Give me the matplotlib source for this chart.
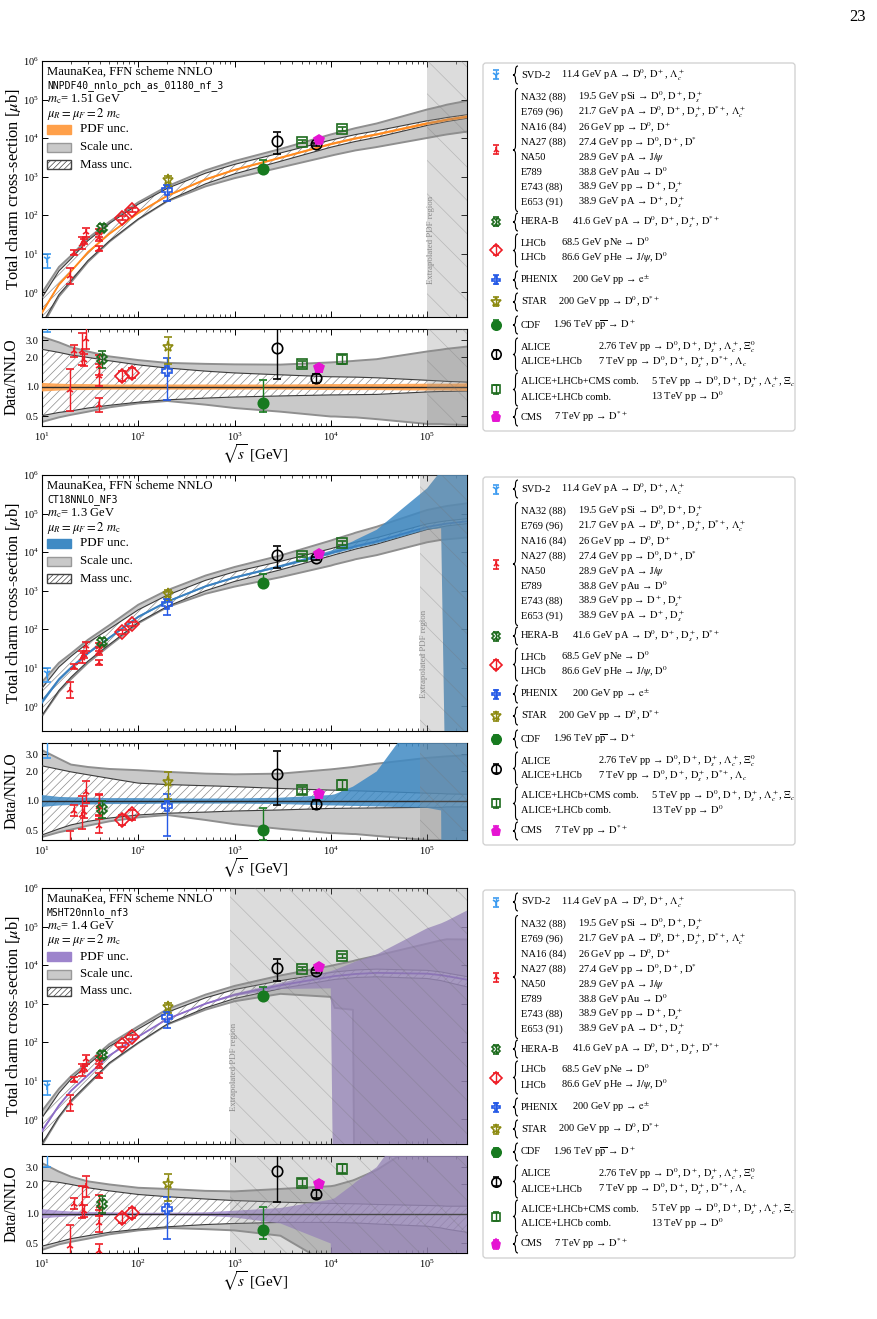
import numpy as np
import matplotlib.pyplot as plt
from matplotlib.patches import Rectangle, FancyBboxPatch, PathPatch
from matplotlib.path import Path
from matplotlib.ticker import NullLocator, FixedLocator, FixedFormatter

plt.rcParams['font.family'] = ['Liberation Serif', 'DejaVu Serif']
plt.rcParams['mathtext.fontset'] = 'stix'
plt.rcParams['hatch.linewidth'] = 0.5
plt.rcParams['xtick.direction'] = 'in'
plt.rcParams['ytick.direction'] = 'in'
plt.rcParams['xtick.top'] = True
plt.rcParams['ytick.right'] = True
plt.rcParams['axes.linewidth'] = 0.8

# ---------------- measurements ----------------
# sqrt(s) [GeV], sigma [mub], error bar ends
pts_x = [11.4, 19.5, 21.7, 26.0, 27.4, 28.9, 38.8, 38.9, 38.9, 41.6,
         68.5, 86.6, 200, 205, 1960, 2760, 7000, 5020, 13000, 7500]
pts_y = [7.3, 2.7, 10.8, 18, 21, 36, 13.5, 26, 34, 48,
         86, 141, 465, 845, 1620, 8200, 7000, 8000, 17200, 9150]
pts_lo = [4.4, 1.64, 9.6, 13, 18, 28, 11.5, 21, 27, 39,
          77, 125, 231, 570, 1300, 3900, 6300, 7400, 15500, 8400]
pts_hi = [9.8, 4.4, 12.5, 28, 24, 46, 16, 35, 44, 58,
          96, 158, 620, 1070, 2770, 14000, 7700, 8700, 19000, 9900]
# experiment symbol each point belongs to
pts_grp = [0, 1, 1, 1, 1, 1, 1, 1, 1, 2, 3, 3, 4, 5, 6, 7, 7, 8, 8, 9]

# data / NNLO central value for each PDF set
ratio_nnpdf = [6.0, 0.94, 2.3, 2.3, 1.9, 3.1, 0.65, 1.28, 1.65, 1.91,
               1.3, 1.4, 1.47, 2.56, 0.69, 2.52, 1.23, 1.71, 1.92, 1.55]
ratio_ct18 = [4.5, 0.3, 0.79, 0.72, 0.78, 1.24, 0.55, 0.86, 0.9, 0.83,
              0.64, 0.73, 0.88, 1.55, 0.5, 1.9, 0.93, 1.28, 1.47, 1.18]
ratio_msht = [5.0, 0.47, 1.25, 1.25, 1.08, 1.92, 0.42, 0.81, 1.2, 1.25,
              0.9, 1.02, 1.13, 2.02, 0.69, 2.77, 1.6, 2.07, 2.9, 2.02]

# ---------------- NNLO predictions (bands as ratio to central) ----------------
sqrt_s = [10, 15, 20, 30, 50, 100, 200, 500, 1e3, 3e3, 1e4, 1.1e4, 1.7e4, 1.8e4, 3e4,
          1e5, 1.4e5, 1.6e5, 2.6e5]

nnpdf_central = [0.3, 1.6, 3.5, 11, 33, 115, 320, 850, 1500, 3100, 7000, 7400,
                 9500, 9800, 12500, 24000, 28000, 30000, 36000]
nnpdf_scale_hi = [3.25, 2.85, 2.55, 2.3, 2.05, 1.88, 1.76, 1.72, 1.7, 1.69, 1.78, 1.79,
                  1.84, 1.85, 1.92, 2.3, 2.4, 2.45, 2.58]
nnpdf_scale_lo = [0.44, 0.49, 0.52, 0.56, 0.62, 0.68, 0.72, 0.66, 0.61, 0.56, 0.5, 0.5,
                  0.49, 0.49, 0.47, 0.42, 0.42, 0.415, 0.41]
nnpdf_mass_hi = [2.42, 2.25, 2.12, 2.0, 1.85, 1.68, 1.56, 1.45, 1.39, 1.33, 1.27, 1.27,
                 1.26, 1.26, 1.24, 1.17, 1.15, 1.14, 1.12]
nnpdf_mass_lo = [0.51, 0.55, 0.57, 0.61, 0.65, 0.7, 0.74, 0.77, 0.79, 0.81, 0.83, 0.83,
                 0.835, 0.835, 0.84, 0.89, 0.9, 0.9, 0.91]
nnpdf_pdf_hi = [1.1, 1.08, 1.07, 1.07, 1.06, 1.06, 1.06, 1.06, 1.06, 1.06, 1.07, 1.07,
                1.07, 1.07, 1.07, 1.08, 1.08, 1.08, 1.09]
nnpdf_pdf_lo = [0.9, 0.92, 0.93, 0.93, 0.94, 0.94, 0.94, 0.94, 0.94, 0.94, 0.93, 0.93,
                0.93, 0.93, 0.93, 0.92, 0.92, 0.92, 0.91]

ct18_central = [1.3, 5, 10, 24, 60, 210, 520, 1300, 2200, 4300, 9500, 10200,
                13600, 14200, 19000, 45000, 52000, 55000, 63000]
ct18_scale_hi = [3.3, 2.7, 2.35, 2.22, 2.12, 2.06, 1.98, 1.9, 1.87, 1.9, 2.1, 2.12,
                 2.22, 2.24, 2.4, 2.75, 2.82, 2.85, 2.93]
ct18_scale_lo = [0.43, 0.48, 0.51, 0.56, 0.62, 0.68, 0.72, 0.64, 0.58, 0.52, 0.47, 0.47,
                 0.46, 0.46, 0.44, 0.4, 0.4, 0.39, 0.38]
ct18_mass_hi = [2.28, 2.1, 1.98, 1.85, 1.7, 1.52, 1.47, 1.43, 1.4, 1.34, 1.29, 1.29,
                1.27, 1.27, 1.25, 1.2, 1.19, 1.18, 1.17]
ct18_mass_lo = [0.45, 0.52, 0.57, 0.62, 0.67, 0.72, 0.75, 0.77, 0.79, 0.81, 0.84, 0.84,
                0.845, 0.845, 0.85, 0.86, 0.86, 0.87, 0.87]
ct18_pdf_hi = [1.15, 1.1, 1.09, 1.08, 1.07, 1.07, 1.06, 1.06, 1.06, 1.08, 1.15, 1.17,
               1.4, 1.45, 2.0, 10, 25, 30, 40]
ct18_pdf_lo = [0.87, 0.9, 0.91, 0.92, 0.93, 0.93, 0.94, 0.94, 0.94, 0.93, 0.9, 0.9,
               0.89, 0.89, 0.88, 0.85, 0.8, 1e-9, 1e-9]

msht_central = [0.5, 2.3, 5.5, 14, 45, 140, 400, 1000, 1700, 3000, 5000, 5200,
                5800, 5900, 6300, 6000, 5500, 5200, 4200]
msht_scale_hi = [3.3, 2.7, 2.4, 2.15, 2.0, 1.85, 1.8, 1.72, 1.7, 1.8, 1.92, 1.95,
                 2.2, 2.25, 2.8, 6, 8, 9, 11]
msht_scale_lo = [0.43, 0.49, 0.52, 0.56, 0.62, 0.68, 0.72, 0.7, 0.68, 0.6, 0.3, 0.15,
                 0.12, 1e-9, 1e-9, 1e-9, 1e-9, 1e-9, 1e-9]
msht_mass_hi = [2.2, 2.1, 2.0, 1.85, 1.72, 1.58, 1.5, 1.42, 1.37, 1.32, 1.28, 1.28,
                1.27, 1.27, 1.25, 1.22, 1.21, 1.2, 1.2]
msht_mass_lo = [0.47, 0.52, 0.56, 0.6, 0.65, 0.7, 0.74, 0.78, 0.8, 0.82, 0.82, 0.82,
                0.81, 0.81, 0.79, 0.75, 0.72, 0.7, 0.65]
msht_pdf_hi = [1.12, 1.08, 1.06, 1.05, 1.04, 1.03, 1.03, 1.04, 1.08, 1.15, 1.4, 1.45,
               2.0, 2.1, 3.0, 15, 22, 27, 62]
msht_pdf_lo = [0.9, 0.93, 0.95, 0.96, 0.97, 0.97, 0.97, 0.96, 0.92, 0.8, 0.5, 1e-9,
               1e-9, 1e-9, 1e-9, 1e-9, 1e-9, 1e-9, 1e-9]

# start of the extrapolated PDF region [GeV]
extrap_start = [1e5, 8.5e4, 900]

pdf_names = ['NNPDF40_nnlo_pch_as_01180_nf_3', 'CT18NNLO_NF3', 'MSHT20nnlo_nf3']
mc_values = ['1.51', '1.3', '1.4']

# legend texts
D0, Dp, Ds, Dst, Dss = (r'$\mathrm{D}^0$', r'$\mathrm{D}^+$', r'$\mathrm{D}_s^+$',
                        r'$\mathrm{D}^{*+}$', r'$\mathrm{D}^{*}$')
Lc, Lcn, Jpsi = r'$\Lambda_c^+$', r'$\Lambda_c$', r'$\mathrm{J}/\psi$'
leg_svd = [('SVD-2', '11.4 GeV pA → ' + ', '.join([D0, Dp, Lc]))]
leg_fixed = [
    ('NA32 (88)', '19.5 GeV pSi → ' + ', '.join([D0, Dp, Ds])),
    ('E769 (96)', '21.7 GeV pA → ' + ', '.join([D0, Dp, Ds, Dst, Lc])),
    ('NA16 (84)', '26 GeV pp → ' + ', '.join([D0, Dp])),
    ('NA27 (88)', '27.4 GeV pp → ' + ', '.join([D0, Dp, Dss])),
    ('NA50', '28.9 GeV pA → ' + Jpsi),
    ('E789', '38.8 GeV pAu → ' + D0),
    ('E743 (88)', '38.9 GeV pp → ' + ', '.join([Dp, Ds])),
    ('E653 (91)', '38.9 GeV pA → ' + ', '.join([Dp, Ds]))]
leg_herab = [('HERA-B', '41.6 GeV pA → ' + ', '.join([D0, Dp, Ds, Dst]))]
leg_lhcb = [('LHCb', '68.5 GeV pNe → ' + D0),
            ('LHCb', '86.6 GeV pHe → ' + ', '.join([Jpsi, D0]))]
leg_phenix = [('PHENIX', '200 GeV pp → ' + r'$\mathrm{e}^{\pm}$')]
leg_star = [('STAR', '200 GeV pp → ' + ', '.join([D0, Dst]))]
leg_cdf = [('CDF', r'1.96 TeV p$\overline{\mathrm{p}}$ → ' + Dp)]
leg_alice = [('ALICE', '2.76 TeV pp → ' + ', '.join([D0, Dp, Ds, Lc, r'$\Xi_c^0$'])),
             ('ALICE+LHCb', '7 TeV pp → ' + ', '.join([D0, Dp, Ds, Dst, Lcn]))]
leg_comb = [('ALICE+LHCb+CMS comb.', '5 TeV pp → ' + ', '.join([D0, Dp, Ds, Lc, r'$\Xi_c$'])),
            ('ALICE+LHCb comb.', '13 TeV pp → ' + D0)]
leg_cms = [('CMS', '7 TeV pp → ' + Dst)]

# ---------------- styles ----------------
grp_color = ['#3d9bf0', '#ee1c25', '#1d6b1d', '#ee1c25', '#2459e6', '#8c8a10',
             '#177a1f', 'black', '#1d6b1d', '#e514d2']
grp_marker = ['1', '2', 'X', 'D', 'P', '*', 'o', 'o', 's', 'p']
grp_filled = [True, True, False, False, False, False, True, False, False, True]
grp_ms = [6, 5, 7, 7, 7, 8, 7.5, 7.5, 7, 7.5]
band_cols = ['#ffa04a', '#3f8ac4', '#9d84cc']
line_cols = ['#ff8a1f', '#3a80c0', '#8d6cc8']
band_alpha = [0.9, 0.85, 0.78]

W, H = 877, 1319
fig = plt.figure(figsize=(W / 100, H / 100), dpi=100)


def fbox(x0, y0, x1, y1):
    return [x0 / W, 1 - y1 / H, (x1 - x0) / W, (y1 - y0) / H]


def draw_points(a, yv, lo, hi):
    yv, lo, hi = np.array(yv), np.array(lo), np.array(hi)
    xs = np.array(pts_x)
    g = np.array(pts_grp)
    for k in range(10):
        m = g == k
        c = grp_color[k]
        a.errorbar(xs[m], yv[m], yerr=[yv[m] - lo[m], hi[m] - yv[m]], fmt=grp_marker[k],
                   color=c, mfc=c if grp_filled[k] else 'none', mec=c, ms=grp_ms[k],
                   mew=1.2, elinewidth=1.0, capsize=3, capthick=1.0, zorder=10)


def brace(a, x, y0, y1, w=5):
    ym = 0.5 * (y0 + y1)
    r = min(4, (y1 - y0) / 4)
    verts = [(x + w, y0), (x + w / 2, y0), (x + w / 2, y0 + r),
             (x + w / 2, ym - r), (x + w / 2, ym), (x, ym),
             (x + w / 2, ym), (x + w / 2, ym + r),
             (x + w / 2, y1 - r), (x + w / 2, y1), (x + w, y1)]
    codes = [Path.MOVETO, Path.CURVE3, Path.CURVE3, Path.LINETO, Path.CURVE3, Path.CURVE3,
             Path.CURVE3, Path.CURVE3, Path.LINETO, Path.CURVE3, Path.CURVE3]
    a.add_patch(PathPatch(Path(verts, codes), fc='none', ec='black', lw=0.8))


def draw_legend_box(dy):
    al = fig.add_axes(fbox(480, 60 + dy, 798, 434 + dy))
    al.set_xlim(480, 798)
    al.set_ylim(434, 60)
    al.axis('off')
    al.add_patch(FancyBboxPatch((483, 63), 312, 368, boxstyle='round,pad=0,rounding_size=3',
                                fc='white', ec='#cfcfcf', lw=0.9))
    # (group, rows, row y positions, x of second column)
    blocks = [(0, leg_svd, [75], 561),
              (1, leg_fixed, [97.5 + 15 * i for i in range(8)], 578),
              (2, leg_herab, [222], 572),
              (3, leg_lhcb, [243, 258], 561),
              (4, leg_phenix, [280], 572),
              (5, leg_star, [302], 558),
              (6, leg_cdf, [325], 553),
              (7, leg_alice, [347, 362], 598),
              (8, leg_comb, [382, 397], 651),
              (9, leg_cms, [417], 554)]
    for k, rows, ys, x2 in blocks:
        ysym = 0.5 * (ys[0] + ys[-1])
        c = grp_color[k]
        al.errorbar([496], [ysym], yerr=[[4.5], [4.5]], fmt=grp_marker[k], color=c,
                    mfc=c if grp_filled[k] else 'none', mec=c, ms=grp_ms[k] * 0.9, mew=1.2,
                    elinewidth=1.0, capsize=2.5, capthick=1.0)
        brace(al, 513, ys[0] - 9, ys[-1] + 9)
        for (c1, c2), y in zip(rows, ys):
            al.text(521, y, c1, fontsize=7.5, va='center', ha='left')
            al.text(x2, y, c2, fontsize=7.5, va='center', ha='left')


def panel(p, top, central, s_lo, s_hi, m_lo, m_hi, p_lo, p_hi, ratio):
    ax = fig.add_axes(fbox(42, top, 467, top + 256))
    axr = fig.add_axes(fbox(42, top + 268, 467, top + 365))
    s = np.array(sqrt_s)
    c = np.array(central)
    for a, base in [(ax, c), (axr, np.ones_like(c))]:
        a.fill_between(s, base * np.array(s_lo), base * np.array(s_hi), fc='#c9c9c9',
                       ec='none', lw=0, zorder=1)
        a.plot(s, base * np.array(s_lo), color='#8f8f8f', lw=1.4, zorder=1.5)
        a.plot(s, base * np.array(s_hi), color='#8f8f8f', lw=1.4, zorder=1.5)
        a.fill_between(s, base * np.array(m_lo), base * np.array(m_hi), fc='white',
                       ec='#8a8a8a', hatch='////', lw=0, zorder=2)
        a.plot(s, base * np.array(m_lo), color='#3c3c3c', lw=0.8, zorder=3)
        a.plot(s, base * np.array(m_hi), color='#3c3c3c', lw=0.8, zorder=3)
        a.fill_between(s, base * np.array(p_lo), base * np.array(p_hi), fc=band_cols[p],
                       alpha=band_alpha[p], lw=0, zorder=4)
        a.axvspan(extrap_start[p], 3e5, fc=(0.55, 0.55, 0.55, 0.3),
                  ec=(0.45, 0.45, 0.45, 0.35), hatch='\\', lw=0, zorder=5)
        a.set_xscale('log')
        a.set_yscale('log')
        a.set_xlim(10, 2.6e5)
        a.tick_params(which='major', length=4, width=0.7, labelsize=7.5)
        a.tick_params(which='minor', length=2, width=0.5)
        a.tick_params(axis='y', pad=2.5)
        a.yaxis.set_minor_locator(NullLocator())
    ax.plot(s, c, color=line_cols[p], lw=1.3, zorder=4.5)
    axr.axhline(1.0, color='#2a2a2a', lw=1.0, zorder=4.5)

    draw_points(ax, pts_y, pts_lo, pts_hi)
    r = np.array(ratio)
    y = np.array(pts_y)
    draw_points(axr, r, r * np.array(pts_lo) / y, r * np.array(pts_hi) / y)

    ax.set_ylim(0.23, 1e6)
    ax.tick_params(labelbottom=False)
    axr.set_ylim(0.4, 3.9)
    axr.yaxis.set_major_locator(FixedLocator([0.5, 1.0, 2.0, 3.0]))
    axr.yaxis.set_major_formatter(FixedFormatter(['0.5', '1.0', '2.0', '3.0']))

    # text block
    tx = 5 / 425
    ax.text(tx, 1 - 11 / 256, 'MaunaKea, FFN scheme NNLO', transform=ax.transAxes,
            fontsize=9.2, va='center', zorder=12)
    ax.text(tx, 1 - 25 / 256, pdf_names[p], transform=ax.transAxes, family='DejaVu Sans Mono',
            fontsize=7, va='center', zorder=12)
    ax.text(tx, 1 - 38.5 / 256, r'$m_{\rm c}$= ' + mc_values[p] + ' GeV', transform=ax.transAxes,
            fontsize=9, va='center', zorder=12)
    ax.text(tx, 1 - 52.5 / 256, r'$\mu_R = \mu_F = 2\ m_{\rm c}$', transform=ax.transAxes,
            fontsize=9, va='center', zorder=12)
    handles = [(band_cols[p], band_cols[p], None, 'PDF unc.'),
               ('#c9c9c9', '#999999', None, 'Scale unc.'),
               ('white', '#444444', '//////', 'Mass unc.')]
    for i, (fc, ec, hat, lab) in enumerate(handles):
        yc = 68.5 + 17.5 * i
        ax.add_patch(Rectangle((5 / 425, 1 - (yc + 4.5) / 256), 24 / 425, 9 / 256,
                               transform=ax.transAxes, fc=fc, ec=ec, hatch=hat, lw=1.0,
                               zorder=12))
        ax.text(38 / 425, 1 - yc / 256, lab, transform=ax.transAxes, fontsize=9.3,
                va='center', zorder=12)

    ax.text(extrap_start[p] * 1.1, 0.3, 'Extrapolated PDF region', rotation=90,
            transform=ax.get_xaxis_transform(), fontsize=6.3, color='#8a8a8a',
            ha='center', va='center', zorder=6)

    fig.text(14 / W, 1 - (top + 128) / H, r'Total charm cross-section [$\mu$b]',
             rotation=90, ha='center', va='center', fontsize=11.8)
    fig.text(12 / W, 1 - (top + 316) / H, 'Data/NNLO', rotation=90, ha='center',
             va='center', fontsize=11.2)
    fig.text(255 / W, 1 - (top + 393) / H, r'$\sqrt{s}$ [GeV]', ha='center', va='center',
             fontsize=10.8)


tops = [61, 475, 888]
panel(0, tops[0], nnpdf_central, nnpdf_scale_lo, nnpdf_scale_hi, nnpdf_mass_lo,
      nnpdf_mass_hi, nnpdf_pdf_lo, nnpdf_pdf_hi, ratio_nnpdf)
panel(1, tops[1], ct18_central, ct18_scale_lo, ct18_scale_hi, ct18_mass_lo,
      ct18_mass_hi, ct18_pdf_lo, ct18_pdf_hi, ratio_ct18)
panel(2, tops[2], msht_central, msht_scale_lo, msht_scale_hi, msht_mass_lo,
      msht_mass_hi, msht_pdf_lo, msht_pdf_hi, ratio_msht)
for t in tops:
    draw_legend_box(t - 61)

fig.text(858 / W, 1 - 17 / H, '23', ha='center', va='center', fontsize=12)

fig.savefig('out.png', dpi=100)
